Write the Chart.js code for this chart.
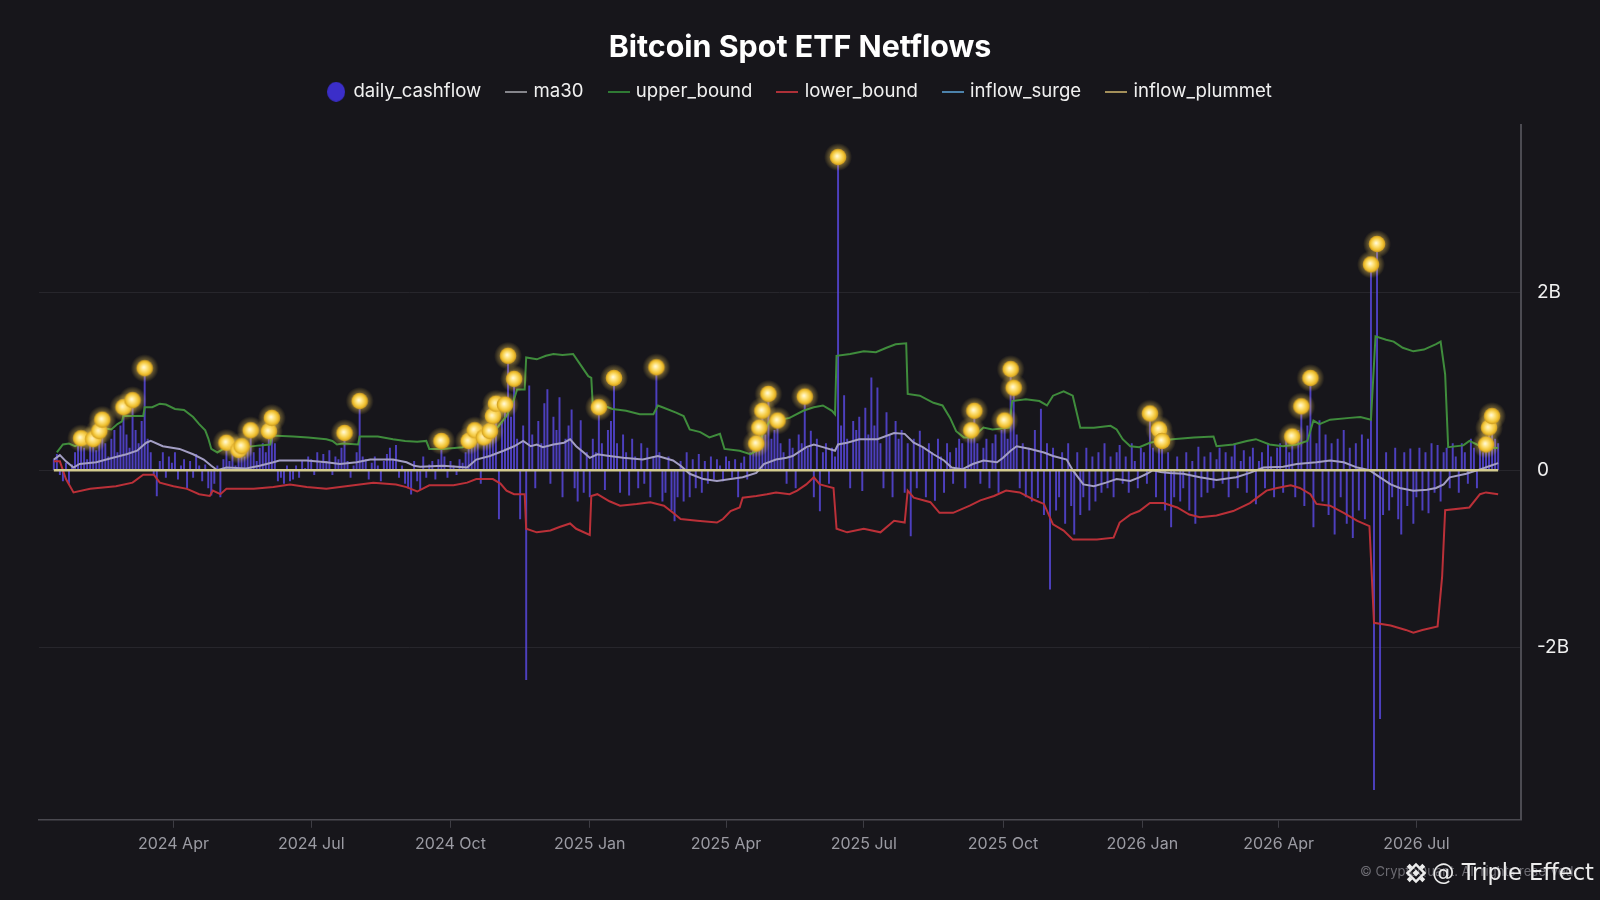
<!DOCTYPE html>
<html>
<head>
<meta charset="utf-8">
<title>Bitcoin Spot ETF Netflows</title>
<script src="https://cdn.jsdelivr.net/npm/chart.js@4.4.1/dist/chart.umd.min.js"></script>
<style>
  html, body { margin: 0; padding: 0; background: #17161b; }
  #wrap { width: 1600px; height: 900px; position: relative; }
</style>
</head>
<body>
<div id="wrap"><canvas id="netflowChart"></canvas></div>
<script>
// x values are days counted from 2024-01-01, y values are in billions USD
const xTickDays = [91, 182, 274, 366, 456, 547, 639, 731, 821, 912]
const xTickLabels = ['2024 Apr', '2024 Jul', '2024 Oct', '2025 Jan', '2025 Apr', '2025 Jul', '2025 Oct', '2026 Jan', '2026 Apr', '2026 Jul']
const yTicks = [-2, 0, 2]

// one bar every other day, first one on day 12
const cashStartDay = 12
const cashStepDays = 2
const dailyCashflow = [
    0.12, 0.18, -0.05, -0.12, 0.08, -0.15, 0.06, 0.2, 0.3, 0.36,
    0.25, 0.12, 0.3, 0.35, 0.22, 0.44, 0.57, 0.3, 0.15, 0.35,
    0.45, 0.2, 0.5, 0.71, 0.4, 0.25, 0.79, 0.45, 0.3, 0.55,
    1.15, 0.35, 0.2, -0.05, -0.29, 0.1, 0.2, -0.08, 0.15, 0.08,
    0.2, -0.1, 0.05, 0.12, -0.2, 0.1, -0.08, 0.18, 0.05, -0.12,
    0.06, -0.2, -0.28, -0.15, 0.05, -0.3, 0.12, 0.31, 0.1, 0.2,
    0.05, 0.23, 0.27, 0.15, 0.3, 0.45, 0.2, 0.1, 0.25, 0.3,
    0.2, 0.44, 0.59, 0.3, -0.12, -0.08, -0.15, 0.05, -0.12, -0.1,
    0.05, -0.08, 0.1, 0.02, 0.15, 0.12, -0.05, 0.2, 0.08, 0.18,
    0.1, 0.22, -0.05, 0.15, 0.12, 0.25, 0.42, 0.1, -0.08, 0.05,
    0.2, 0.78, 0.15, 0.12, -0.1, 0.08, 0.15, 0.05, -0.12, 0.1,
    0.18, 0.25, 0.12, 0.28, -0.08, 0.05, -0.15, -0.2, -0.27, 0.1,
    -0.12, -0.22, 0.15, -0.08, 0.06, 0.1, -0.1, 0.12, 0.33, 0.15,
    -0.08, 0.1, 0.05, -0.05, 0.12, 0.08, 0.2, 0.33, 0.25, 0.45,
    0.3, -0.15, 0.37, 0.5, 0.44, 0.61, 0.75, -0.55, 0.55, 0.74,
    1.29, 0.6, 1.03, 0.35, -0.55, 0.5, -2.36, 0.95, 0.4, -0.2,
    0.55, 0.3, 0.75, 0.91, -0.15, 0.6, 0.45, 0.82, -0.3, 0.35,
    0.5, 0.68, -0.2, -0.35, 0.56, -0.25, 0.2, -0.3, 0.35, 0.2,
    0.71, 0.3, -0.22, 0.45, 0.55, 1.04, 0.3, -0.25, 0.4, 0.2,
    -0.28, 0.35, 0.15, -0.2, 0.3, -0.15, 0.25, -0.3, 0.15, 1.16,
    0.2, -0.35, -0.25, 0.15, -0.45, -0.57, -0.3, 0.1, -0.35, 0.2,
    -0.3, 0.12, -0.2, 0.18, -0.25, 0.1, -0.15, 0.15, -0.1, 0.12,
    0.05, -0.12, 0.15, 0.1, -0.08, 0.12, -0.3, 0.08, 0.15, -0.1,
    0.2, 0.25, 0.3, 0.48, 0.67, 0.4, 0.86, 0.35, 0.45, 0.56,
    0.3, 0.2, -0.15, 0.35, 0.25, -0.2, 0.4, 0.3, 0.83, 0.25,
    0.44, -0.3, 0.35, -0.46, 0.2, 0.3, -0.15, 0.25, 0.15, 3.53,
    0.5, 0.84, 0.35, -0.2, 0.55, 0.45, 0.6, -0.23, 0.7, 0.4,
    1.04, 0.5, 0.93, 0.3, -0.2, 0.65, 0.4, -0.3, 0.55, 0.35,
    0.45, -0.25, 0.3, -0.74, 0.35, -0.2, 0.44, 0.25, -0.3, 0.3,
    0.2, -0.34, 0.35, 0.15, -0.25, 0.3, 0.2, -0.15, 0.25, 0.35,
    0.3, -0.2, 0.4, 0.45, 0.67, 0.3, -0.15, 0.25, 0.35, -0.2,
    0.3, 0.4, -0.25, 0.45, 0.56, 0.35, 1.14, 0.93, 0.4, -0.2,
    0.3, -0.3, 0.25, -0.35, 0.45, -0.31, 0.69, -0.5, 0.3, -1.34,
    0.25, -0.45, -0.3, 0.2, -0.6, 0.3, -0.4, -0.72, 0.2, -0.5,
    -0.3, 0.25, -0.45, 0.15, -0.35, 0.2, -0.25, 0.3, -0.2, 0.15,
    -0.3, 0.2, 0.28, -0.15, 0.15, -0.25, 0.3, 0.1, -0.2, 0.25,
    0.2, -0.15, 0.64, 0.25, -0.3, 0.46, 0.33, -0.45, 0.2, -0.64,
    -0.3, 0.15, -0.35, -0.2, 0.2, -0.45, 0.1, -0.6, 0.26, -0.3,
    0.15, -0.25, 0.2, -0.2, 0.12, 0.25, -0.15, 0.2, -0.3, 0.15,
    0.28, -0.2, 0.1, 0.22, -0.25, 0.15, 0.25, -0.38, 0.1, 0.2,
    -0.2, 0.3, 0.15, -0.3, 0.25, 0.3, -0.25, 0.35, 0.2, 0.38,
    -0.3, 0.45, 0.72, -0.4, 0.5, 1.04, -0.64, 0.3, 0.56, -0.35,
    0.4, -0.5, 0.3, -0.72, 0.35, -0.3, 0.45, -0.6, 0.25, -0.76,
    0.3, -0.45, 0.4, -0.55, 0.35, 2.32, -3.6, 2.55, -2.8, -0.5,
    0.2, -0.45, -0.3, 0.25, -0.55, -0.72, 0.2, -0.4, 0.24, -0.6,
    -0.3, 0.25, -0.45, 0.2, -0.48, 0.3, -0.25, 0.28, -0.35, 0.2,
    0.25, -0.2, 0.3, 0.15, -0.25, 0.3, 0.2, -0.15, 0.35, 0.25,
    -0.2, 0.3, 0.2, 0.29, 0.48, 0.61, 0.35, 0.3
]

const ma30Days = [12, 16, 20, 25, 29, 40, 51, 60, 67, 73, 76, 84, 95, 104, 111, 116, 120, 126, 139, 148, 157, 161, 179, 192, 201, 212, 221, 236, 245, 250, 254, 269, 285, 291, 300, 309, 316, 322, 327, 331, 335, 342, 349, 353, 357, 362, 366, 371, 379, 388, 401, 411, 421, 426, 432, 441, 450, 459, 467, 476, 481, 489, 496, 500, 509, 514, 520, 528, 530, 536, 544, 556, 567, 574, 580, 586, 593, 600, 605, 612, 619, 626, 635, 639, 644, 648, 657, 666, 672, 681, 685, 692, 699, 707, 714, 723, 729, 734, 738, 743, 749, 758, 769, 780, 793, 802, 811, 824, 833, 846, 855, 864, 873, 881, 888, 895, 901, 910, 919, 925, 930, 934, 945, 954, 961, 966]
const ma30 = [0.12, 0.17, 0.1, 0.03, 0.07, 0.09, 0.14, 0.18, 0.22, 0.31, 0.33, 0.27, 0.24, 0.18, 0.12, 0.05, 0, 0.03, 0.02, 0.05, 0.09, 0.11, 0.11, 0.09, 0.07, 0.09, 0.12, 0.12, 0.09, 0.05, 0.04, 0.05, 0.03, 0.12, 0.16, 0.22, 0.27, 0.33, 0.27, 0.29, 0.26, 0.29, 0.31, 0.35, 0.27, 0.2, 0.14, 0.18, 0.16, 0.14, 0.12, 0.16, 0.11, 0.05, -0.04, -0.1, -0.12, -0.1, -0.08, -0.03, 0.07, 0.12, 0.14, 0.16, 0.26, 0.29, 0.26, 0.22, 0.29, 0.31, 0.35, 0.35, 0.42, 0.41, 0.31, 0.26, 0.18, 0.11, 0.03, 0.01, 0.07, 0.11, 0.09, 0.14, 0.22, 0.27, 0.24, 0.2, 0.16, 0.12, 0, -0.16, -0.18, -0.14, -0.1, -0.12, -0.08, -0.04, 0, -0.02, -0.03, -0.04, -0.08, -0.11, -0.08, -0.03, 0.03, 0.04, 0.07, 0.09, 0.11, 0.09, 0.03, 0, -0.08, -0.16, -0.2, -0.23, -0.22, -0.2, -0.16, -0.08, -0.04, 0.01, 0.05, 0.08]

const upperDays = [14, 18, 22, 26, 30, 36, 42, 46, 50, 54, 57, 58, 71, 72, 77, 82, 86, 92, 98, 104, 108, 112, 114, 116, 120, 124, 130, 138, 148, 155, 156, 170, 180, 192, 196, 199, 203, 213, 214, 226, 236, 244, 252, 258, 260, 269, 282, 289, 297, 304, 311, 316, 318, 323, 324, 331, 337, 342, 348, 355, 359, 365, 367, 368, 375, 381, 390, 399, 408, 411, 414, 423, 428, 432, 439, 445, 452, 455, 465, 472, 476, 480, 485, 492, 498, 507, 514, 520, 526, 528, 529, 538, 547, 555, 562, 568, 575, 576, 584, 593, 599, 604, 608, 613, 619, 626, 632, 643, 645, 654, 663, 668, 672, 679, 685, 690, 699, 710, 714, 718, 723, 729, 736, 742, 751, 765, 778, 780, 791, 800, 806, 815, 824, 833, 840, 844, 848, 855, 868, 875, 882, 885, 892, 897, 903, 910, 917, 925, 928, 931, 933, 943, 947, 952, 956, 966]
const upperBound = [0.2, 0.29, 0.3, 0.27, 0.3, 0.38, 0.42, 0.47, 0.46, 0.52, 0.55, 0.61, 0.61, 0.71, 0.71, 0.75, 0.74, 0.69, 0.68, 0.6, 0.52, 0.45, 0.36, 0.24, 0.2, 0.24, 0.25, 0.26, 0.28, 0.29, 0.39, 0.38, 0.37, 0.35, 0.33, 0.29, 0.3, 0.29, 0.38, 0.38, 0.35, 0.33, 0.32, 0.33, 0.24, 0.24, 0.26, 0.33, 0.38, 0.46, 0.61, 0.8, 0.91, 0.91, 1.27, 1.25, 1.29, 1.31, 1.3, 1.31, 1.21, 1.06, 1.04, 0.73, 0.73, 0.69, 0.67, 0.63, 0.63, 0.73, 0.71, 0.65, 0.61, 0.46, 0.43, 0.37, 0.41, 0.24, 0.22, 0.18, 0.22, 0.4, 0.56, 0.57, 0.59, 0.67, 0.71, 0.73, 0.67, 0.63, 1.29, 1.31, 1.34, 1.33, 1.38, 1.42, 1.43, 0.86, 0.84, 0.76, 0.73, 0.59, 0.44, 0.37, 0.37, 0.48, 0.46, 0.48, 0.78, 0.8, 0.78, 0.73, 0.84, 0.89, 0.84, 0.48, 0.48, 0.5, 0.46, 0.35, 0.27, 0.26, 0.31, 0.33, 0.35, 0.37, 0.38, 0.27, 0.29, 0.33, 0.35, 0.29, 0.27, 0.29, 0.33, 0.56, 0.52, 0.57, 0.59, 0.6, 0.57, 1.51, 1.47, 1.45, 1.38, 1.34, 1.36, 1.42, 1.45, 1.08, 0.26, 0.28, 0.33, 0.29, 0.26, 0.25]

const lowerDays = [12, 16, 20, 25, 36, 53, 64, 71, 78, 82, 91, 100, 108, 115, 117, 122, 126, 144, 157, 168, 179, 192, 201, 214, 223, 238, 245, 252, 260, 276, 285, 291, 302, 307, 311, 316, 323, 324, 331, 340, 346, 353, 357, 366, 367, 371, 379, 386, 397, 406, 415, 421, 426, 437, 450, 454, 459, 465, 467, 476, 483, 489, 498, 503, 509, 514, 518, 527, 529, 536, 547, 558, 567, 574, 576, 580, 591, 597, 606, 617, 624, 633, 641, 650, 659, 666, 672, 679, 685, 701, 712, 716, 723, 729, 736, 745, 754, 762, 769, 780, 791, 802, 813, 820, 829, 835, 842, 846, 855, 864, 873, 881, 884, 895, 905, 910, 916, 926, 929, 931, 947, 954, 958, 966]
const lowerBound = [0.1, 0.1, -0.1, -0.25, -0.21, -0.18, -0.14, -0.05, -0.05, -0.14, -0.18, -0.21, -0.27, -0.29, -0.23, -0.27, -0.21, -0.21, -0.19, -0.16, -0.19, -0.21, -0.19, -0.16, -0.14, -0.16, -0.19, -0.24, -0.17, -0.17, -0.14, -0.1, -0.1, -0.15, -0.23, -0.27, -0.27, -0.66, -0.7, -0.68, -0.64, -0.6, -0.66, -0.73, -0.29, -0.27, -0.35, -0.4, -0.38, -0.36, -0.4, -0.48, -0.55, -0.57, -0.59, -0.55, -0.46, -0.42, -0.31, -0.29, -0.27, -0.25, -0.27, -0.23, -0.16, -0.08, -0.16, -0.2, -0.66, -0.7, -0.66, -0.7, -0.57, -0.59, -0.23, -0.31, -0.36, -0.48, -0.48, -0.4, -0.34, -0.29, -0.23, -0.25, -0.33, -0.38, -0.61, -0.68, -0.78, -0.78, -0.76, -0.59, -0.5, -0.46, -0.37, -0.37, -0.42, -0.5, -0.53, -0.51, -0.46, -0.37, -0.23, -0.2, -0.17, -0.2, -0.27, -0.38, -0.4, -0.48, -0.57, -0.63, -1.72, -1.75, -1.8, -1.83, -1.8, -1.76, -1.2, -0.45, -0.42, -0.27, -0.25, -0.27]

// days where the daily flow broke above the upper band
const surgeDays = [30, 38, 42, 44, 58, 64, 72, 126, 134, 136, 142, 154, 156, 204, 214, 268, 286, 290, 296, 300, 302, 304, 310, 312, 316, 372, 382, 410, 476, 478, 480, 484, 490, 508, 530, 618, 620, 640, 644, 646, 736, 742, 744, 830, 836, 842, 882, 886, 958, 960, 962]
const surgeValues = [0.36, 0.35, 0.44, 0.57, 0.71, 0.79, 1.15, 0.31, 0.23, 0.27, 0.45, 0.44, 0.59, 0.42, 0.78, 0.33, 0.33, 0.45, 0.37, 0.44, 0.61, 0.75, 0.74, 1.29, 1.03, 0.71, 1.04, 1.16, 0.3, 0.48, 0.67, 0.86, 0.56, 0.83, 3.53, 0.45, 0.67, 0.56, 1.14, 0.93, 0.64, 0.46, 0.33, 0.38, 0.72, 1.04, 2.32, 2.55, 0.29, 0.48, 0.61]

const zeroDays = [12, 966]
const zeroValues = [0, 0]

const legendNames = ['daily_cashflow', 'ma30', 'upper_bound', 'lower_bound', 'inflow_surge', 'inflow_plummet']
const legendColors = ['#3b2ec9', '#85858b', '#2f7a34', '#ad3038', '#4c82ab', '#a38f5a']

const pts = (xs, ys) => xs.map((x, i) => ({x: x, y: ys[i]}))

function makeCanvas(w, h, draw)
{
    const c = document.createElement('canvas')
    c.width = w
    c.height = h
    draw(c.getContext('2d'))
    return c
}

// golden coin used for the surge markers
const coin = makeCanvas(32, 32, g =>
{
    const glow = g.createRadialGradient(16, 16, 6, 16, 16, 14)
    glow.addColorStop(0, 'rgba(255, 214, 90, 0.5)')
    glow.addColorStop(1, 'rgba(255, 214, 90, 0)')
    g.fillStyle = glow
    g.fillRect(0, 0, 32, 32)
    const body = g.createRadialGradient(15, 15, 0, 16, 16, 8.3)
    body.addColorStop(0, '#fffbe2')
    body.addColorStop(0.35, '#ffe583')
    body.addColorStop(0.75, '#f0c232')
    body.addColorStop(1, '#c8951c')
    g.fillStyle = body
    g.beginPath()
    g.arc(16, 16, 8.3, 0, Math.PI * 2)
    g.fill()
})

const legendIcons = legendColors.map((col, i) => i === 0
    ? makeCanvas(18, 20, g => { g.fillStyle = col; g.beginPath(); g.ellipse(9, 10, 9, 10, 0, 0, Math.PI * 2); g.fill() })
    : makeCanvas(22, 2, g => { g.fillStyle = col; g.fillRect(0, 0, 22, 2) }))

const watermark = {
    id: 'watermark',
    afterDraw(chart)
    {
        const g = chart.ctx
        g.save()
        g.textBaseline = 'middle'
        g.font = '13px Inter'
        g.fillStyle = '#6c6b72'
        g.fillText('\u00a9 CryptoQuant. All rights reserved.', 1360, 872)
        // diamond logo
        g.translate(1416, 873)
        g.rotate(Math.PI / 4)
        g.strokeStyle = '#ececec'
        g.fillStyle = '#ececec'
        g.lineWidth = 2.5
        g.strokeRect(-6, -6, 12, 12)
        g.fillRect(-2.5, -2.5, 5, 5)
        g.fillRect(-11, -2, 4, 4)
        g.fillRect(7, -2, 4, 4)
        g.fillRect(-2, -11, 4, 4)
        g.fillRect(-2, 7, 4, 4)
        g.setTransform(1, 0, 0, 1, 0, 0)
        g.font = '22.5px "DejaVu Sans"'
        g.fillStyle = '#ececec'
        g.fillText('@ Triple Effect', 1432, 874)
        g.restore()
    }
}

// empty axes that only reserve room round the plot area
const spacer = (position, size) => ({
    position: position,
    display: true,
    ticks: {display: false},
    grid: {display: false},
    border: {display: false},
    afterFit: s => { if (position === 'top') s.height = size; else s.width = size },
})

Chart.defaults.font.family = 'Inter'

const graphConfig = {
    type: 'bar',
    data: {
        datasets: [
            {
                type: 'scatter',
                label: 'inflow_surge',
                data: pts(surgeDays, surgeValues),
                pointStyle: coin,
                pointRadius: 9,
                order: 0,
            },
            {
                type: 'line',
                label: 'inflow_plummet',
                data: pts(zeroDays, zeroValues),
                borderColor: '#d3cb8f',
                borderWidth: 2.5,
                pointRadius: 0,
                order: 1,
            },
            {
                type: 'line',
                label: 'upper_bound',
                data: pts(upperDays, upperBound),
                borderColor: '#3f8c3c',
                borderWidth: 2,
                pointRadius: 0,
                order: 2,
            },
            {
                type: 'line',
                label: 'lower_bound',
                data: pts(lowerDays, lowerBound),
                borderColor: '#bb3038',
                borderWidth: 2,
                pointRadius: 0,
                order: 3,
            },
            {
                type: 'line',
                label: 'ma30',
                data: pts(ma30Days, ma30),
                borderColor: '#a39ec4',
                borderWidth: 2,
                pointRadius: 0,
                order: 4,
            },
            {
                type: 'bar',
                label: 'daily_cashflow',
                data: dailyCashflow.map((v, i) => ({x: cashStartDay + i * cashStepDays, y: v})),
                backgroundColor: 'rgba(92, 76, 236, 0.78)',
                barThickness: 1.3,
                order: 5,
            },
        ],
    },
    options: {
        responsive: true,
        maintainAspectRatio: false,
        animation: false,
        events: [],
        devicePixelRatio: 1,
        layout: {
            padding: {left: 20, right: 20, top: 0, bottom: 39}
        },
        scales: {
            x: {
                type: 'linear',
                min: 2.2,
                max: 981.1,
                offset: false,
                afterBuildTicks: s => { s.ticks = xTickDays.map(v => ({value: v})) },
                ticks: {
                    autoSkip: false,
                    maxRotation: 0,
                    padding: 7,
                    color: '#9b9ba3',
                    font: {size: 16},
                    callback: (v, i) => xTickLabels[i],
                },
                grid: {
                    offset: false,
                    drawOnChartArea: false,
                    drawTicks: true,
                    tickLength: 8,
                    color: '#3e3d44',
                },
                border: {color: '#4a4950', width: 1.5},
            },
            y: {
                position: 'right',
                min: -3.94,
                max: 3.89,
                afterBuildTicks: s => { s.ticks = yTicks.map(v => ({value: v})) },
                afterFit: s => { s.width = 59 },
                ticks: {
                    padding: 16,
                    color: '#f0f0f0',
                    font: {size: 19},
                    callback: v => v === 0 ? '0' : v + 'B',
                },
                grid: {
                    drawTicks: false,
                    color: '#27262c',
                },
                border: {color: '#4c4b52', width: 2},
            },
            xGap: spacer('top', 14),
            yGap: spacer('left', 19),
        },
        plugins: {
            title: {
                display: true,
                text: 'Bitcoin Spot ETF Netflows',
                color: '#ffffff',
                font: {size: 30.4, weight: 'bold'},
                padding: {top: 30, bottom: -11},
            },
            legend: {
                position: 'top',
                labels: {
                    usePointStyle: true,
                    pointStyleWidth: 16,
                    boxHeight: 16,
                    padding: 27,
                    color: '#f0f0f0',
                    font: {size: 18.6},
                    generateLabels: () => legendNames.map((name, i) => ({
                        text: name,
                        fontColor: '#f0f0f0',
                        pointStyle: legendIcons[i],
                        lineWidth: 0,
                        hidden: false,
                    })),
                },
            },
            tooltip: {enabled: false},
        },
    },
    plugins: [watermark],
}

const ctx = document.getElementById('netflowChart')
const myChart = new Chart(ctx, graphConfig)
</script>
</body>
</html>
